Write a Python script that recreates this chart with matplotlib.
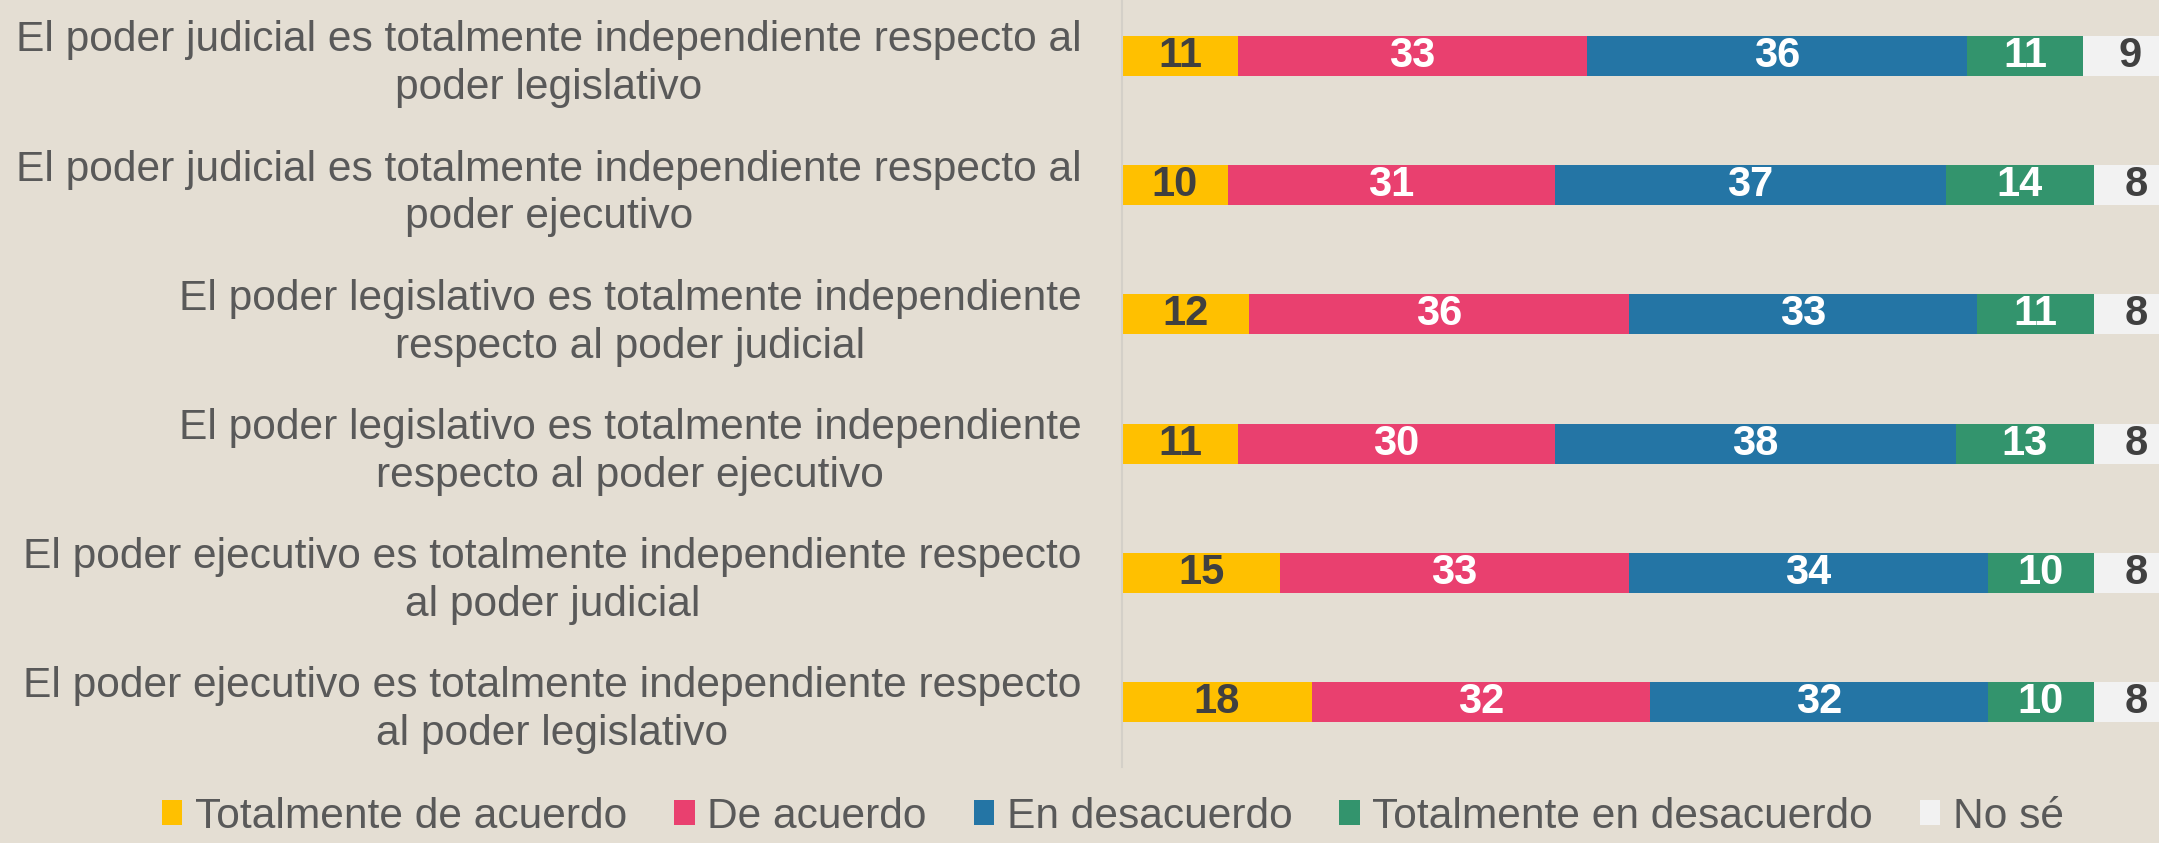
import numpy as np
import matplotlib
matplotlib.use("Agg")
import matplotlib.pyplot as plt
from matplotlib.patches import Patch

plt.rcParams['font.family'] = ['Liberation Sans', 'DejaVu Sans']

categories = [
    "El poder judicial es totalmente independiente respecto al\npoder legislativo",
    "El poder judicial es totalmente independiente respecto al\npoder ejecutivo",
    "El poder legislativo es totalmente independiente\nrespecto al poder judicial",
    "El poder legislativo es totalmente independiente\nrespecto al poder ejecutivo",
    "El poder ejecutivo es totalmente independiente respecto\nal poder judicial",
    "El poder ejecutivo es totalmente independiente respecto\nal poder legislativo",
]
series_names = ["Totalmente de acuerdo", "De acuerdo", "En desacuerdo",
                "Totalmente en desacuerdo", "No sé"]
totalmente_de_acuerdo = [11, 10, 12, 11, 15, 18]
de_acuerdo = [33, 31, 36, 30, 33, 32]
en_desacuerdo = [36, 37, 33, 38, 34, 32]
totalmente_en_desacuerdo = [11, 14, 11, 13, 10, 10]
no_se = [9, 8, 8, 8, 8, 8]

colors = ["#FFC000", "#E9406F", "#2475A5", "#33946D", "#F2F2F2"]
text_colors = ["#404040", "white", "white", "white", "#404040"]
bg = "#E4DED3"

fig = plt.figure(figsize=(21.59, 8.43), dpi=100)
fig.patch.set_facecolor(bg)
ax = fig.add_axes([1122 / 2159, 76.4 / 843, 1056 / 2159, 775.2 / 843])
ax.set_facecolor(bg)

y = np.arange(len(categories))
data = [totalmente_de_acuerdo, de_acuerdo, en_desacuerdo,
        totalmente_en_desacuerdo, no_se]
left = np.zeros(len(categories))
for vals, c, tc in zip(data, colors, text_colors):
    vals = np.array(vals, dtype=float)
    ax.barh(y, vals, left=left, height=0.31, color=c, edgecolor='none')
    for yi, l, v in zip(y, left, vals):
        ax.text(l + v / 2, yi, f"{int(v)}", ha='center', va='center',
                fontsize=30, fontweight='bold', color=tc)
    left += vals

ax.set_xlim(0, 100)
ax.set_ylim(5.5, -0.5)
ax.set_yticks(y)
ax.set_yticklabels(categories, fontsize=30.6, color="#595959",
                   multialignment='center', linespacing=1.25)
ax.tick_params(axis='y', length=0, pad=29)
ax.set_xticks([])
for s in ['top', 'right', 'bottom']:
    ax.spines[s].set_visible(False)
ax.spines['left'].set_color("#D4D0C8")
ax.spines['left'].set_linewidth(1.5)

handles = [Patch(facecolor=c, edgecolor='none') for c in colors]
fig.legend(handles, series_names, loc='center', bbox_to_anchor=(0.5155, 0.031),
           ncol=5, frameon=False, fontsize=30.6, labelcolor="#595959",
           handlelength=0.48, handleheight=0.52, handletextpad=0.3,
           columnspacing=1.1, borderpad=0)

fig.savefig("out.png", dpi=100, facecolor=bg)
